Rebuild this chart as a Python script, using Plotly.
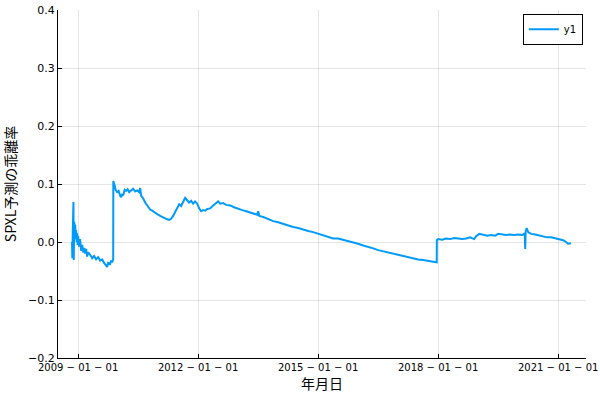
import plotly.graph_objects as go

dates = [
    "2008-11-06", "2008-11-09", "2008-11-13", "2008-11-17", "2008-11-19", "2008-11-22",
    "2008-11-26", "2008-11-30", "2008-12-05", "2008-12-09", "2008-12-14", "2008-12-18",
    "2008-12-23", "2008-12-27", "2009-01-01", "2009-01-10", "2009-01-19", "2009-01-28",
    "2009-02-07", "2009-02-16", "2009-02-25", "2009-03-06", "2009-03-15", "2009-03-24",
    "2009-04-02", "2009-04-21", "2009-05-09", "2009-05-27", "2009-06-14", "2009-07-03",
    "2009-07-21", "2009-08-08", "2009-08-26", "2009-09-14", "2009-09-23", "2009-10-02",
    "2009-10-20", "2009-10-29", "2009-11-07", "2009-11-17", "2009-11-18", "2009-11-30",
    "2009-12-09", "2009-12-23", "2010-01-06", "2010-01-19", "2010-01-29", "2010-02-07",
    "2010-02-16", "2010-03-02", "2010-03-15", "2010-03-29", "2010-04-12", "2010-04-30",
    "2010-05-18", "2010-06-05", "2010-06-24", "2010-07-12", "2010-07-21", "2010-07-30",
    "2010-08-18", "2010-09-05", "2010-09-23", "2010-10-20", "2010-11-08", "2010-12-05",
    "2011-01-01", "2011-01-20", "2011-02-16", "2011-03-15", "2011-04-12", "2011-04-30",
    "2011-05-18", "2011-06-06", "2011-06-24", "2011-07-12", "2011-07-30", "2011-08-18",
    "2011-09-05", "2011-09-23", "2011-10-11", "2011-10-30", "2011-11-17", "2011-12-05",
    "2011-12-24", "2012-01-11", "2012-01-29", "2012-02-16", "2012-03-06", "2012-03-24",
    "2012-04-20", "2012-05-18", "2012-06-14", "2012-07-02", "2012-07-21", "2012-08-17",
    "2012-09-13", "2012-10-20", "2012-11-25", "2013-01-01", "2013-02-07", "2013-03-16",
    "2013-04-21", "2013-05-28", "2013-06-24", "2013-07-03", "2013-07-13", "2013-08-18",
    "2013-10-03", "2013-11-17", "2014-01-01", "2014-02-16", "2014-04-03", "2014-05-18",
    "2014-07-03", "2014-08-17", "2014-10-02", "2014-11-17", "2015-01-01", "2015-02-16",
    "2015-04-03", "2015-05-18", "2015-07-03", "2015-08-18", "2015-10-02", "2015-11-17",
    "2016-01-01", "2016-02-16", "2016-04-02", "2016-05-18", "2016-07-02", "2016-08-17",
    "2016-10-02", "2016-11-16", "2017-01-01", "2017-02-16", "2017-04-02", "2017-05-18",
    "2017-07-02", "2017-08-17", "2017-10-02", "2017-11-17", "2017-12-19", "2017-12-20",
    "2018-01-01", "2018-02-07", "2018-03-15", "2018-04-21", "2018-05-27", "2018-07-03",
    "2018-08-08", "2018-09-14", "2018-10-20", "2018-11-26", "2018-12-14", "2019-01-11",
    "2019-02-16", "2019-03-25", "2019-04-30", "2019-06-06", "2019-07-03", "2019-08-08",
    "2019-09-14", "2019-10-20", "2019-11-26", "2020-01-02", "2020-02-07", "2020-03-01",
    "2020-03-06", "2020-03-10", "2020-03-19", "2020-04-02", "2020-04-29", "2020-06-05",
    "2020-07-11", "2020-08-17", "2020-09-22", "2020-10-29", "2020-12-04", "2021-01-09",
    "2021-02-15", "2021-03-14", "2021-04-01", "2021-04-28",
]

deviation = [
    0.000, -0.028, 0.020, 0.040, 0.069, -0.031,
    0.035, 0.010, 0.030, 0.005, 0.020, 0.000,
    0.015, -0.005, 0.010, -0.008, 0.005, -0.015,
    -0.005, -0.018, -0.010, -0.020, -0.012, -0.025,
    -0.018, -0.022, -0.028, -0.024, -0.030, -0.026,
    -0.032, -0.030, -0.036, -0.040, -0.043, -0.036,
    -0.038, -0.032, -0.035, -0.030, 0.105, 0.098,
    0.090, 0.086, 0.088, 0.080, 0.077, 0.083,
    0.080, 0.090, 0.088, 0.091, 0.086, 0.089,
    0.092, 0.087, 0.089, 0.086, 0.093, 0.080,
    0.075, 0.068, 0.064, 0.056, 0.054, 0.050,
    0.047, 0.045, 0.042, 0.040, 0.038, 0.040,
    0.045, 0.052, 0.060, 0.065, 0.062, 0.068,
    0.076, 0.072, 0.068, 0.071, 0.066, 0.070,
    0.066, 0.058, 0.053, 0.055, 0.054, 0.057,
    0.058, 0.063, 0.068, 0.070, 0.066, 0.067,
    0.064, 0.063, 0.060, 0.057, 0.055, 0.053,
    0.051, 0.048, 0.047, 0.053, 0.045, 0.043,
    0.039, 0.036, 0.034, 0.031, 0.029, 0.026,
    0.024, 0.021, 0.019, 0.017, 0.014, 0.011,
    0.008, 0.006, 0.006, 0.004, 0.002, 0.000,
    -0.003, -0.006, -0.008, -0.011, -0.014, -0.016,
    -0.018, -0.021, -0.023, -0.025, -0.026, -0.028,
    -0.030, -0.031, -0.032, -0.034, -0.035, 0.003,
    0.005, 0.004, 0.006, 0.005, 0.007, 0.006,
    0.005, 0.006, 0.008, 0.005, 0.010, 0.014,
    0.012, 0.011, 0.012, 0.011, 0.014, 0.013,
    0.012, 0.013, 0.012, 0.013, 0.012, 0.015,
    -0.012, 0.018, 0.024, 0.017, 0.014, 0.013,
    0.011, 0.009, 0.008, 0.008, 0.006, 0.005,
    0.003, 0.000, -0.003, -0.002,
]

x_tick_vals = ["2009-01-01", "2012-01-01", "2015-01-01", "2018-01-01", "2021-01-01"]
x_tick_text = ["2009 − 01 − 01", "2012 − 01 − 01", "2015 − 01 − 01",
               "2018 − 01 − 01", "2021 − 01 − 01"]
y_tick_vals = [-0.2, -0.1, 0.0, 0.1, 0.2, 0.3, 0.4]
y_tick_text = ["−0.2", "−0.1", "0.0", "0.1", "0.2", "0.3", "0.4"]

fig = go.Figure()
fig.add_trace(go.Scatter(
    x=dates, y=deviation, mode="lines", name="y1",
    line=dict(color="#009AFA", width=2),
))

font_family = "DejaVu Sans"
fig.update_layout(
    width=600, height=400,
    margin=dict(l=58, r=14, t=10, b=42),
    paper_bgcolor="white", plot_bgcolor="white",
    font=dict(family=font_family, size=11, color="#000000"),
    showlegend=True,
    legend=dict(
        x=0.994, y=0.989, xanchor="right", yanchor="top",
        bordercolor="black", borderwidth=1, bgcolor="white",
        font=dict(family=font_family, size=10),
        itemwidth=30, tracegroupgap=0,
    ),
    xaxis=dict(
        type="date",
        range=["2008-07-01", "2021-09-12"],
        tickvals=x_tick_vals, ticktext=x_tick_text,
        showgrid=True, gridcolor="rgba(0,0,0,0.1)", gridwidth=1,
        showline=True, linecolor="black", linewidth=1,
        ticks="inside", ticklen=4, tickcolor="black",
        zeroline=False, automargin=False,
        ticklabeloverflow="allow",
        title=dict(text="年月日", font=dict(family="Noto Sans CJK JP", size=14), standoff=5),
        tickfont=dict(family=font_family, size=10),
    ),
    yaxis=dict(
        range=[-0.2, 0.4],
        tickvals=y_tick_vals, ticktext=y_tick_text,
        showgrid=True, gridcolor="rgba(0,0,0,0.1)", gridwidth=1,
        showline=True, linecolor="black", linewidth=1,
        ticks="inside", ticklen=4, tickcolor="black",
        zeroline=False, automargin=False,
        title=dict(text="SPXL予測の乖離率", font=dict(family="Noto Sans CJK JP", size=14), standoff=9),
        tickfont=dict(family=font_family, size=11),
    ),
)

fig.write_html("out.html", config={"displayModeBar": False},
               post_script="document.body.style.margin='0';")
